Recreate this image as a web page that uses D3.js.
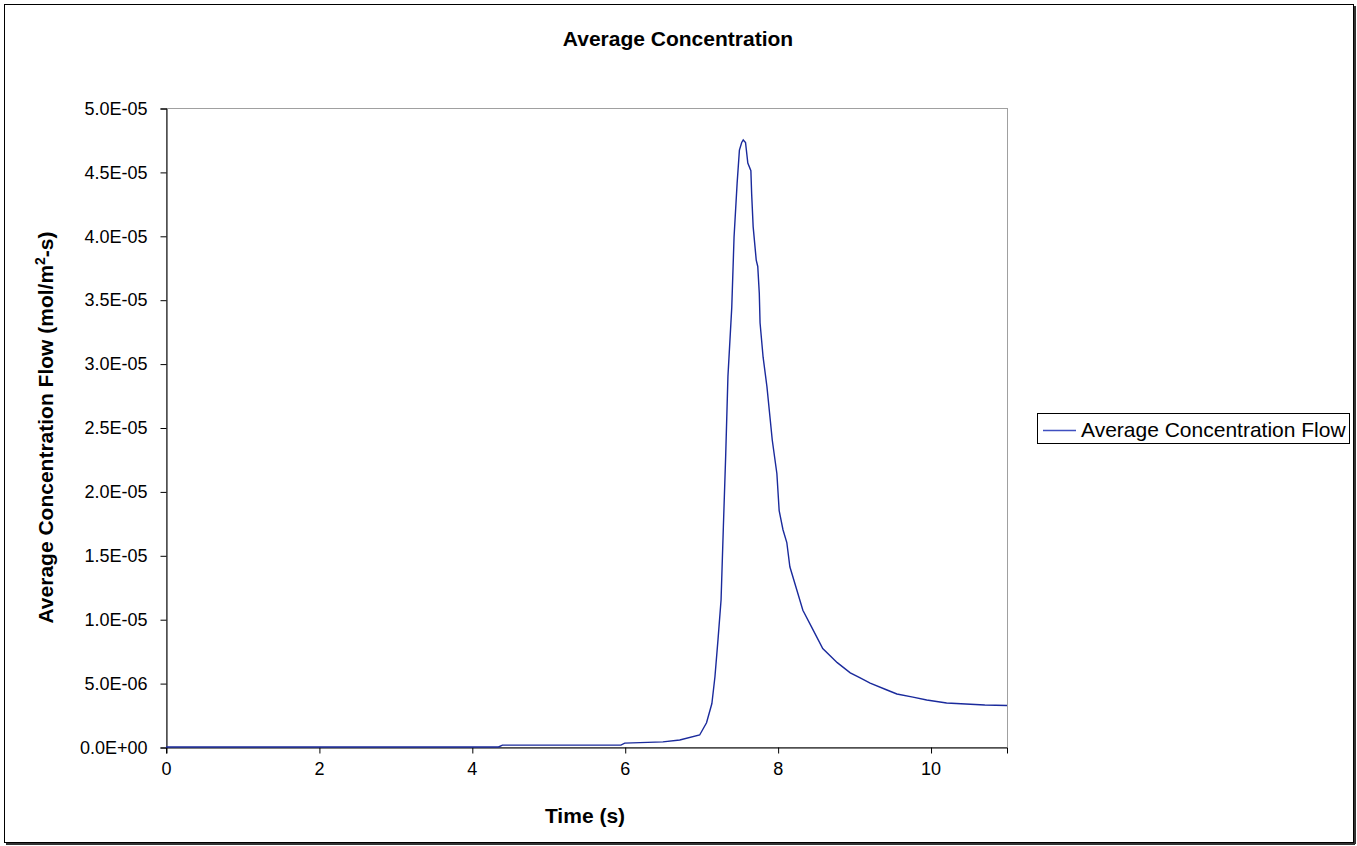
<!DOCTYPE html>
<html>
<head>
<meta charset="utf-8">
<script src="https://cdn.jsdelivr.net/npm/d3@7"></script>
<style>
  body { margin: 0; background: #fff; }
  text { font-family: "Liberation Sans", Arial, sans-serif; }
</style>
</head>
<body>
<div id="chart"></div>
<script>
// time (s)
var timeValues = [0, 2, 4, 4.35, 4.4, 5.95, 6.0, 6.5, 6.72, 6.98, 7.07, 7.14, 7.18, 7.22, 7.26, 7.29, 7.32, 7.35, 7.40,
  7.43, 7.47, 7.50, 7.53, 7.55, 7.58, 7.61, 7.65, 7.66, 7.68, 7.72, 7.74, 7.76, 7.77, 7.81, 7.86, 7.90, 7.93,
  7.99, 8.02, 8.07, 8.12, 8.16, 8.25, 8.33, 8.46, 8.59, 8.78, 8.95, 9.08, 9.21, 9.43, 9.56, 9.77, 9.95, 10.21, 10.71, 11];
// average concentration flow (mol/m2-s)
var concValues = [0, 0, 0, 0, 1.5e-7, 1.5e-7, 3e-7, 4e-7, 5.5e-7, 9.4e-7, 1.9e-6, 3.4e-6, 5.5e-6, 8.4e-6, 1.15e-5, 1.72e-5, 2.27e-5, 2.9e-5, 3.44e-5,
  3.99e-5, 4.41e-5, 4.67e-5, 4.73e-5, 4.75e-5, 4.73e-5, 4.57e-5, 4.51e-5, 4.33e-5, 4.07e-5, 3.81e-5, 3.76e-5, 3.55e-5, 3.32e-5, 3.05e-5, 2.82e-5, 2.58e-5, 2.40e-5,
  2.14e-5, 1.85e-5, 1.70e-5, 1.60e-5, 1.41e-5, 1.23e-5, 1.07e-5, 9.2e-6, 7.7e-6, 6.6e-6, 5.8e-6, 5.4e-6, 5.0e-6, 4.46e-6, 4.15e-6, 3.9e-6, 3.68e-6, 3.44e-6, 3.29e-6, 3.25e-6];
var xTicks = [0, 2, 4, 6, 8, 10];
var yTicks = [0, 5e-6, 1e-5, 1.5e-5, 2e-5, 2.5e-5, 3e-5, 3.5e-5, 4e-5, 4.5e-5, 5e-5];
var seriesName = "Average Concentration Flow";

var W = 1357, H = 846;
var plotL = 166, plotR = 1007, plotT = 108, plotB = 747;

var svg = d3.select("#chart").append("svg")
  .attr("width", W)
  .attr("height", H);

// outer frame with a bit of shadow
svg.append("rect")
  .attr("x", 4.5).attr("y", 4.5)
  .attr("width", 1349).attr("height", 838)
  .attr("fill", "#fff")
  .attr("stroke", "#000")
  .attr("stroke-width", 1);
svg.append("line").attr("x1", 1355).attr("x2", 1355).attr("y1", 6).attr("y2", 844)
  .attr("stroke", "#333").attr("stroke-width", 2);
svg.append("line").attr("x1", 6).attr("x2", 1355).attr("y1", 844).attr("y2", 844)
  .attr("stroke", "#333").attr("stroke-width", 2);

var x = d3.scaleLinear().domain([0, 11]).range([plotL, plotR]);
var y = d3.scaleLinear().domain([0, 5e-5]).range([plotB, plotT]);

// plot area border (grey)
svg.append("rect")
  .attr("x", plotL + 0.5).attr("y", plotT + 0.5)
  .attr("width", plotR - plotL).attr("height", plotB - plotT)
  .attr("fill", "none")
  .attr("stroke", "#a0a0a0")
  .attr("stroke-width", 1);

var fmtY = function(d){
  if (d === 0) return "0.0E+00";
  var e = Math.floor(Math.log10(d) + 1e-9);
  var m = d / Math.pow(10, e);
  return m.toFixed(1) + "E-" + String(-e).padStart(2, "0");
};

var yAxis = svg.append("g")
  .attr("transform", "translate(" + (plotL + 0.5) + ",0.5)")
  .call(d3.axisLeft(y).tickValues(yTicks).tickFormat(fmtY).tickSize(6).tickPadding(13));
var xAxis = svg.append("g")
  .attr("transform", "translate(0," + (plotB + 0.5) + ")")
  .call(d3.axisBottom(x).tickValues(xTicks).tickFormat(d3.format("d")).tickSize(6).tickPadding(9));

[yAxis, xAxis].forEach(function(a){
  a.select(".domain").attr("stroke", "#000");
  a.selectAll(".tick line").attr("stroke", "#000");
  a.selectAll("text")
    .attr("fill", "#000")
    .style("font-family", "'Liberation Sans', Arial, sans-serif")
    .style("font-size", "18px");
});
xAxis.selectAll(".tick line").attr("transform", "translate(0.5,0)");

// data line
var line = d3.line()
  .x(function(d){ return x(d[0]); })
  .y(function(d){ return y(d[1]); });

var pts = timeValues.map(function(t, i){ return [t, concValues[i]]; });

svg.append("path")
  .datum(pts)
  .attr("d", line)
  .attr("fill", "none")
  .attr("stroke", "#1a2a9c")
  .attr("stroke-width", 1.4);

// titles - chart title is centred on the whole chart area, like Excel
svg.append("text")
  .attr("x", 678).attr("y", 46)
  .attr("text-anchor", "middle")
  .style("font-size", "21px")
  .style("font-weight", "bold")
  .text("Average Concentration");

svg.append("text")
  .attr("x", 585).attr("y", 823)
  .attr("text-anchor", "middle")
  .style("font-size", "21px")
  .style("font-weight", "bold")
  .text("Time (s)");

var yl = svg.append("text")
  .attr("transform", "translate(53," + ((plotT + plotB) / 2) + ") rotate(-90)")
  .attr("text-anchor", "middle")
  .style("font-size", "21px")
  .style("font-weight", "bold");
yl.append("tspan").text("Average Concentration Flow (mol/m");
yl.append("tspan").attr("dy", -8).style("font-size", "14px").text("2");
yl.append("tspan").attr("dy", 8).text("-s)");

// legend
var lg = svg.append("g");
lg.append("rect")
  .attr("x", 1037.5).attr("y", 413.5)
  .attr("width", 312).attr("height", 30)
  .attr("fill", "#fff")
  .attr("stroke", "#000");
lg.append("line")
  .attr("x1", 1043).attr("x2", 1076)
  .attr("y1", 430.5).attr("y2", 430.5)
  .attr("stroke", "#3f4fc0")
  .attr("stroke-width", 1.4);
lg.append("text")
  .attr("x", 1081).attr("y", 437)
  .style("font-size", "21px")
  .text(seriesName);
</script>
</body>
</html>
